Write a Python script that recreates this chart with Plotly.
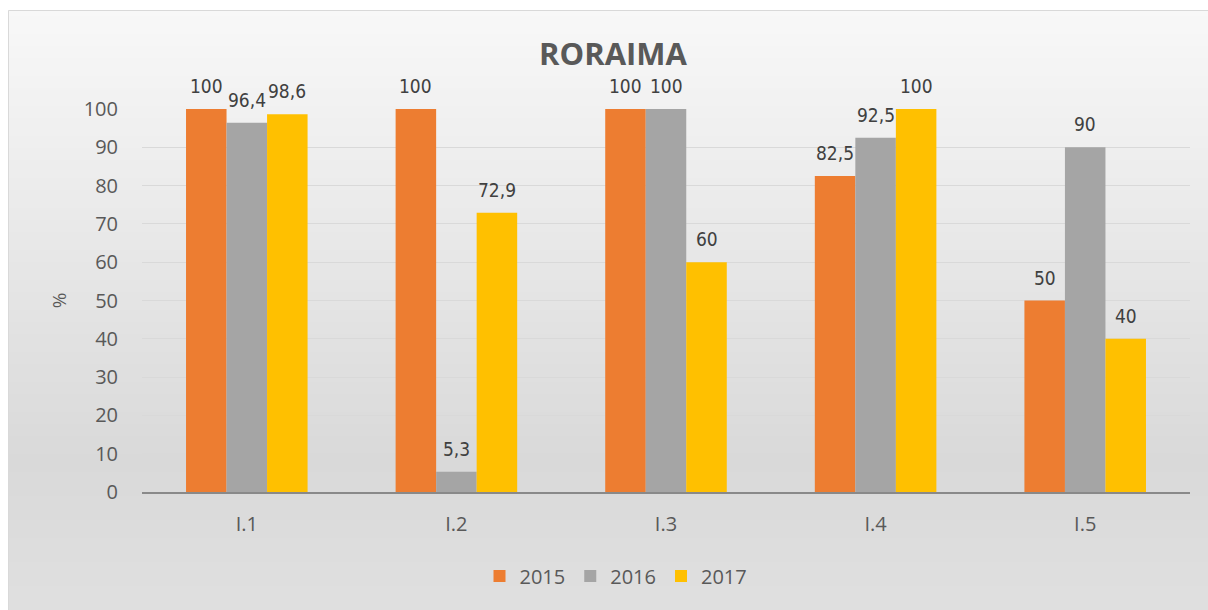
import plotly.graph_objects as go

categories = ["I.1", "I.2", "I.3", "I.4", "I.5"]
years = ["2015", "2016", "2017"]
v2015 = [100, 100, 100, 82.5, 50]
v2016 = [96.4, 5.3, 100, 92.5, 90]
v2017 = [98.6, 72.9, 60, 100, 40]
series = [v2015, v2016, v2017]
colors = ["#ED7D31", "#A5A5A5", "#FFC000"]
yticks = list(range(0, 101, 10))

W, H = 1208, 610
L = 142
R = W - 1190
T = 109
B = H - 492
PW, PH = W - L - R, H - T - B
bargap = 0.42

def fmt(v):
    return f"{v:g}".replace(".", ",")

fig = go.Figure()
for name, vals, col in zip(years, series, colors):
    fig.add_trace(go.Bar(x=categories, y=vals, name=name, marker=dict(color=col, line=dict(width=0)),
                         hoverinfo="skip"))

# data labels above bars
bw = (1 - bargap) / 3
for j, vals in enumerate(series):
    for i, v in enumerate(vals):
        fig.add_annotation(x=i + (j - 1) * bw, y=v, xref="x", yref="y", text=fmt(v),
                           showarrow=False, yanchor="bottom", yshift=10,
                           font=dict(family="Liberation Sans Narrow, DejaVu Sans Condensed, Liberation Sans",
                                     size=19, color="#404040"))

# background gradient (decoration) and chart border, in pixels
def px2x(px):
    return (px - L) / PW
def py2y(py):
    return (H - B - py) / PH

stops = [(10, (248, 248, 248)), (460, (217, 217, 217)), (620, (224, 224, 224))]
def col_at(py):
    for (a, ca), (b, cb) in zip(stops, stops[1:]):
        if a <= py <= b:
            t = (py - a) / (b - a)
            return tuple(round(ca[k] + (cb[k] - ca[k]) * t) for k in range(3))
    return stops[-1][1]

shapes = []
step = 6
py = 10
while py < 620:
    c = col_at(py + step / 2)
    shapes.append(dict(type="rect", xref="paper", yref="paper", layer="below",
                       x0=px2x(8), x1=px2x(1230), y0=py2y(py + step + 1), y1=py2y(py),
                       fillcolor=f"rgb{c}", line=dict(width=0)))
    py += step
shapes.append(dict(type="rect", xref="paper", yref="paper", layer="below",
                   x0=px2x(8.5), x1=px2x(1240), y0=py2y(640), y1=py2y(10.5),
                   fillcolor="rgba(0,0,0,0)", line=dict(width=1, color="#D9D9D9")))

fig.update_layout(
    width=W, height=H,
    margin=dict(l=L, r=R, t=T, b=B),
    paper_bgcolor="white", plot_bgcolor="rgba(0,0,0,0)",
    barmode="group", bargap=bargap, bargroupgap=0,
    shapes=shapes,
    hovermode=False,
    title=dict(text="<b>RORAIMA</b>", x=613 / W, xanchor="center", xref="container",
               y=1 - 54 / H, yanchor="middle", yref="container",
               font=dict(family="Open Sans, Liberation Sans", size=31, color="#595959")),
    font=dict(family="Open Sans, Liberation Sans", color="#595959"),
    legend=dict(orientation="h", xref="container", yref="container", x=616 / W, xanchor="center",
                y=1 - 576 / H, yanchor="middle", font=dict(size=20, color="#595959"),
                bgcolor="rgba(0,0,0,0)", itemwidth=30, traceorder="normal"),
    showlegend=True,
)
fig.update_yaxes(range=[0, 100], tickvals=yticks, showgrid=True, gridcolor="#D9D9D9", gridwidth=1,
                 zeroline=False, showline=False, ticks="outside", ticklen=19, tickcolor="rgba(0,0,0,0)",
                 tickfont=dict(size=20, color="#595959"),
                 title=dict(text="%", standoff=12, font=dict(size=19, color="#595959")))
fig.update_xaxes(showline=True, linecolor="#898989", linewidth=2, showgrid=False, ticks="outside",
                 ticklen=13, tickcolor="rgba(0,0,0,0)", tickfont=dict(size=20, color="#595959"))

fig.write_html("out.html", config={"displayModeBar": False},
               post_script="document.body.style.margin='0';document.body.style.overflow='hidden';")
